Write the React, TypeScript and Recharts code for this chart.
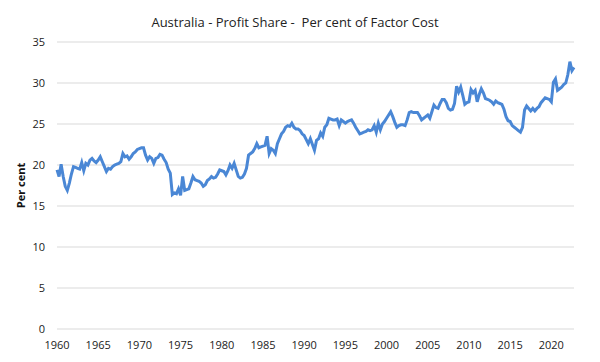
import { CartesianGrid, Line, LineChart, XAxis, YAxis, Label } from "recharts";

// quarterly profit share, % of factor cost (Q1 1960 .. Q4 2022)
const share1960s = [
  19.4, 18.6, 20.1, 18.6, 17.4, 16.9, 17.8, 18.9, 19.8, 19.7, 19.6, 19.5,
  20.3, 19.3, 20.2, 20.0, 20.6, 20.8, 20.5, 20.3, 20.6, 21.0, 20.4, 19.8,
  19.2, 19.6, 19.5, 19.8, 20.0, 20.1, 20.2, 20.4, 21.4, 21.0, 21.1, 20.7,
  21.0, 21.4, 21.6, 21.9,
];
const share1970s = [
  22.0, 22.1, 22.1, 21.2, 20.6, 21.0, 20.8, 20.2, 20.8, 20.9, 21.3, 21.2,
  20.7, 20.3, 19.5, 19.0, 16.4, 16.6, 16.5, 17.1, 16.3, 18.6, 16.9, 17.0,
  17.1, 17.8, 18.6, 18.2, 18.1, 18.0, 17.8, 17.4, 17.6, 18.1, 18.3, 18.6,
  18.4, 18.5, 18.9, 19.4,
];
const share1980s = [
  19.3, 19.2, 18.8, 19.3, 20.0, 19.6, 20.2, 19.4, 18.6, 18.4, 18.5, 18.9,
  19.6, 21.2, 21.4, 21.6, 22.0, 22.6, 22.1, 22.2, 22.3, 22.4, 23.5, 21.4,
  22.0, 21.8, 21.4, 22.6, 23.2, 23.8, 24.1, 24.6, 24.8, 24.7, 25.1, 24.6,
  24.4, 24.4, 24.2, 23.8,
];
const share1990s = [
  23.6, 23.1, 22.6, 23.2, 22.5, 21.8, 23.0, 23.2, 23.9, 23.5, 24.6, 24.9,
  25.7, 25.6, 25.5, 25.5, 25.6, 24.8, 25.5, 25.3, 25.1, 25.3, 25.4, 25.5,
  25.1, 24.6, 24.2, 23.8, 23.9, 24.0, 24.1, 24.3, 24.2, 24.3, 24.8, 24.0,
  25.1, 24.3, 25.0, 25.3,
];
const share2000s = [
  25.7, 26.1, 26.5, 25.9, 25.2, 24.6, 24.8, 24.9, 24.9, 24.8, 25.5, 26.4,
  26.5, 26.4, 26.4, 26.4, 26.0, 25.5, 25.7, 25.9, 26.1, 25.7, 26.5, 27.3,
  27.0, 26.9, 27.5, 28.0, 28.0, 27.6, 26.9, 26.7, 26.8, 27.5, 29.6, 28.9,
  29.5, 28.5, 27.4, 27.6,
];
const share2010s = [
  27.7, 29.2, 28.8, 29.1, 27.7, 28.6, 29.3, 28.8, 28.1, 28.0, 27.9, 27.7,
  27.4, 27.8, 27.6, 27.5, 27.4, 26.8, 25.9, 25.4, 25.3, 24.8, 24.6, 24.4,
  24.2, 24.0, 24.6, 26.7, 27.2, 26.9, 26.6, 26.9, 26.6, 26.9, 27.1, 27.6,
  27.9, 28.2, 28.1, 28.0,
];
const share2020s = [27.7, 30.1, 30.5, 29.1, 29.3, 29.5, 29.8, 30.0, 31.0, 32.6, 31.5, 31.9];

const firstYear = 1960;
const yearTicks = [1960, 1965, 1970, 1975, 1980, 1985, 1990, 1995, 2000, 2005, 2010, 2015, 2020];
const valueTicks = [0, 5, 10, 15, 20, 25, 30, 35];

const shares = [
  ...share1960s,
  ...share1970s,
  ...share1980s,
  ...share1990s,
  ...share2000s,
  ...share2010s,
  ...share2020s,
];
const data = shares.map((v, i) => ({ year: firstYear + i / 4, share: v }));

const font = "'Open Sans', sans-serif";

export default function App() {
  return (
    <div style={{ position: "absolute", left: 0, top: 0, width: 600, height: 362, background: "#fff" }}>
      <div
        style={{
          position: "absolute",
          top: 13,
          left: 0,
          width: 590,
          textAlign: "center",
          fontFamily: font,
          fontSize: 13,
          color: "#222",
        }}
      >
        Australia - Profit Share -&nbsp; Per cent of Factor Cost
      </div>
      <LineChart width={600} height={362} data={data} margin={{ top: 42, right: 26, left: 0, bottom: 0 }}>
        <CartesianGrid vertical={false} stroke="#d9d9d9" />
        <XAxis
          dataKey="year"
          type="number"
          domain={[1960, 2022.75]}
          ticks={yearTicks}
          axisLine={false}
          tickLine={false}
          tickSize={0}
          tickMargin={12}
          height={33}
          interval={0}
          tick={{ fontSize: 11, fontFamily: font, fill: "#222" }}
        />
        <YAxis
          type="number"
          domain={[0, 35]}
          ticks={valueTicks}
          axisLine={false}
          tickLine={false}
          tickSize={0}
          tickMargin={12}
          width={57}
          tick={{ fontSize: 11, fontFamily: font, fill: "#222" }}
        >
          <Label
            value="Per cent"
            angle={-90}
            position="insideLeft"
            offset={21}
            style={{ fontSize: 11, fontWeight: "bold", fontFamily: font, fill: "#111", textAnchor: "middle" }}
          />
        </YAxis>
        <Line
          type="linear"
          dataKey="share"
          stroke="#4A87D5"
          strokeWidth={3}
          dot={false}
          isAnimationActive={false}
        />
      </LineChart>
    </div>
  );
}
